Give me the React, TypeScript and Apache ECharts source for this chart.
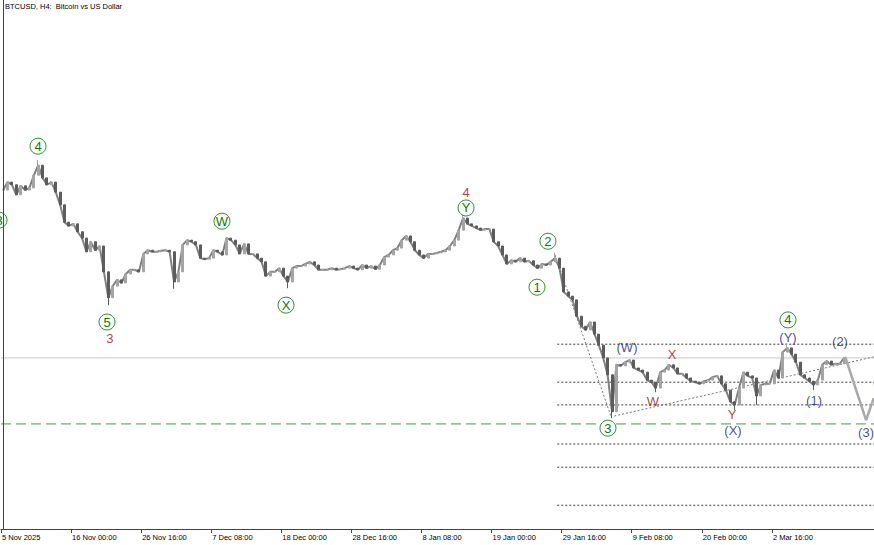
import React, { useEffect, useRef } from "react";
import * as echarts from "echarts";

// ---- data ----
const title = "BTCUSD, H4:  Bitcoin vs US Dollar";
const xTickLabels = [
  "5 Nov 2025", "16 Nov 00:00", "26 Nov 16:00", "7 Dec 08:00", "18 Dec 00:00",
  "28 Dec 16:00", "8 Jan 08:00", "19 Jan 00:00", "29 Jan 16:00", "9 Feb 08:00",
  "20 Feb 00:00", "2 Mar 16:00", "13 Mar 08:00",
];
const barsPerTick = 64; // H4 bars between time labels
const firstBar = 2;
const sampleStep = 4; // one sampled point every 4 H4 bars
const closes = [
  102200, 103700, 103200, 101300, 103000, 102200, 102600, 105000, 106900, 104500,
  103200, 103700, 101800, 99400, 96100, 95400, 95800, 94300, 93100, 90500,
  92400, 90800, 91600, 86700, 81800, 84000, 85200, 84600, 86300, 87100,
  87100, 86700, 90100, 90800, 90500, 90500, 90700, 90800, 90500, 84800,
  86700, 91800, 92700, 92400, 91800, 89300, 89100, 89300, 90800, 90500,
  89900, 93100, 92700, 91800, 90100, 92000, 90100, 90100, 89300, 88600,
  85900, 86700, 86700, 87400, 85900, 84800, 87400, 87800, 87800, 88200,
  88600, 88000, 87100, 87100, 87100, 87400, 87100, 87200, 87400, 87800,
  87400, 87100, 88000, 87400, 87800, 87200, 88000, 89500, 89900, 90800,
  91200, 92700, 93500, 92400, 90800, 89900, 89300, 90100, 90100, 90300,
  90500, 90800, 91600, 92700, 94600, 96900, 95800, 95400, 95000, 94600,
  94800, 94800, 92400, 91600, 89900, 88200, 88900, 88600, 89300, 88600,
  88800, 88000, 87400, 88200, 88000, 88600, 89300, 87400, 82900, 82100,
  81400, 78300, 76400, 75700, 77200, 74900, 72800, 70400, 67200, 60200,
  69100, 68900, 69600, 70000, 68500, 68100, 67700, 66200, 65800, 64700,
  67700, 68100, 69100, 68500, 67400, 67400, 66600, 66000, 65800, 65500,
  66000, 66200, 66800, 67000, 65500, 64300, 62100, 61500, 64700, 67700,
  67000, 66600, 63200, 65300, 65500, 65500, 68100, 66600, 71500, 72300,
  71100, 69600, 67200, 66600, 66000, 65300, 66200, 69100, 69800, 69100,
  69300, 69300, 70400,
];
// spikes (sample index, price)
const wickHighs: [number, number][] = [[8, 107900], [105, 97800], [126, 90300], [179, 73200]];
const wickLows: [number, number][] = [
  [24, 80400], [39, 83500], [65, 83600], [139, 59000], [149, 63900],
  [167, 60500], [172, 61500], [185, 64300],
];
const currentPrice = 70400;
const supportLevel = 57900;
const fiboLevels = [73000, 65800, 61500, 54100, 49700, 42500];
const fiboStartBar = 508;
const trendLine1: [number, number][] = [[506, 89900], [557, 59400]];
const trendLine2: [number, number][] = [[560, 59400], [797, 70600]];
const projection: [number, number][] = [[771, 70600], [790, 58600], [797, 62800]];
// wave labels: [bar, price, text]
const circledLabels: [number, number, string][] = [
  [-1.8, 96500, "3"], [33.8, 110500, "4"], [96.8, 77200, "5"], [201.8, 96300, "W"],
  [260.3, 80400, "X"], [424.7, 98800, "Y"], [499.5, 92500, "2"], [489.5, 83800, "1"],
  [554.3, 57100, "3"], [718.7, 77600, "4"],
];
const redLabels: [number, number, string][] = [
  [99.5, 74000, "3"], [424.7, 101800, "4"], [612.8, 71000, "X"], [595.4, 62200, "W"],
  [667.6, 59700, "Y"],
];
const navyLabels: [number, number, string][] = [
  [571.7, 72300, "(W)"], [668.5, 56700, "(X)"], [718.7, 74200, "(Y)"], [766.2, 73600, "(2)"],
  [742.5, 62400, "(1)"], [790, 56200, "(3)"], [803.5, 65800, "(4)"],
];
const yMin = 38000;
const yMax = 138000;
const xMax = 797.26;

export default function App() {
  const ref = useRef<HTMLDivElement>(null);
  useEffect(() => {
    document.body.style.margin = "0";
    if (!ref.current) return;
    const chart = echarts.init(ref.current, undefined, { renderer: "svg" });

    const candles = closes.map((c, i) => {
      const o = i === 0 ? c : closes[i - 1];
      let lo = Math.min(o, c);
      let hi = Math.max(o, c);
      const wh = wickHighs.find((w) => w[0] === i);
      const wl = wickLows.find((w) => w[0] === i);
      if (wh) hi = Math.max(hi, wh[1]);
      if (wl) lo = Math.min(lo, wl[1]);
      return [firstBar + sampleStep * i, o, c, lo, hi];
    });
    const closeLine = closes.map((c, i) => [firstBar + sampleStep * i, c]);

    const font = "Liberation Sans, Arial, sans-serif";
    const hLine = (y: number, x0: number, color: string, type: any, width = 1, z = 1) => ({
      type: "line",
      data: [[x0, y], [xMax, y]],
      symbol: "none",
      silent: true,
      z,
      lineStyle: { color, type, width },
    });

    const series: any[] = [
      hLine(currentPrice, 0, "#c8c8c8", "solid"),
      hLine(supportLevel, 0, "#3f9f3f", [10, 5]),
      ...fiboLevels.map((v) => hLine(v, fiboStartBar, "#3a3a3a", [2, 2])),
      {
        type: "line", data: trendLine1, symbol: "none", silent: true, z: 1,
        lineStyle: { color: "#777", type: [2, 2], width: 1 },
      },
      {
        type: "line", data: trendLine2, symbol: "none", silent: true, z: 1,
        lineStyle: { color: "#777", type: [2, 2], width: 1 },
      },
      {
        type: "line", data: closeLine, symbol: "none", silent: true, z: 2,
        lineStyle: { color: "#808080", width: 2 },
      },
      {
        type: "candlestick",
        data: candles,
        encode: { x: 0, y: [1, 2, 3, 4] },
        barWidth: 2.5,
        z: 3,
        itemStyle: {
          color: "#a4a4a4", color0: "#5c5c5c",
          borderColor: "#a4a4a4", borderColor0: "#5c5c5c", borderWidth: 1,
        },
      },
      {
        type: "line", data: projection, symbol: "none", silent: true, z: 4,
        lineStyle: { color: "#a8a8a8", width: 2.5 },
      },
      {
        type: "scatter", clip: false, z: 6,
        data: circledLabels,
        symbol: "circle", symbolSize: 16,
        itemStyle: { color: "#ffffff", borderColor: "#2f8f2f", borderWidth: 1, opacity: 1 },
        label: {
          show: true, position: "inside", formatter: (p: any) => p.data[2],
          color: "#0a7a0a", fontSize: 13, fontFamily: font,
        },
      },
      {
        type: "scatter", clip: false, z: 6,
        data: redLabels,
        symbolSize: 14, itemStyle: { color: "rgba(0,0,0,0)" },
        label: {
          show: true, position: "inside", formatter: (p: any) => p.data[2],
          color: "#9b0d0d", fontSize: 13, fontFamily: font,
        },
      },
      {
        type: "scatter", clip: false, z: 6,
        data: navyLabels,
        symbolSize: 14, itemStyle: { color: "rgba(0,0,0,0)" },
        label: {
          show: true, position: "inside", formatter: (p: any) => p.data[2],
          color: "#1a2080", fontSize: 13, fontFamily: font,
        },
      },
    ];

    chart.setOption({
      animation: false,
      backgroundColor: "#ffffff",
      grid: { left: 1, right: 0, top: 1, bottom: 16, outerBoundsMode: "none", containLabel: false },
      xAxis: {
        type: "value",
        min: 0,
        max: xMax,
        interval: barsPerTick,
        splitLine: { show: false },
        axisLine: { show: true, lineStyle: { color: "#444", width: 1 } },
        axisTick: { show: true, length: 4, lineStyle: { color: "#444" } },
        axisLabel: {
          show: true,
          formatter: (v: number) => xTickLabels[Math.round(v / barsPerTick)] ?? "",
          align: "left",
          margin: 4,
          padding: [0, 0, 0, 1],
          fontSize: 7.5,
          color: "#000",
          fontFamily: font,
          showMaxLabel: true,
          hideOverlap: false,
        },
      },
      yAxis: {
        type: "value",
        min: yMin,
        max: yMax,
        show: false,
        splitLine: { show: false },
      },
      graphic: [
        {
          type: "line",
          shape: { x1: 3.5, y1: 0, x2: 3.5, y2: 529 },
          style: { stroke: "#444", lineWidth: 1 },
          z: 10,
        },
        {
          type: "text",
          left: 5,
          top: 2,
          style: { text: title, fontSize: 7.5, fill: "#000", fontFamily: font },
          z: 10,
        },
      ],
      series,
    });
    return () => chart.dispose();
  }, []);
  return <div ref={ref} style={{ width: 874, height: 545 }} />;
}
